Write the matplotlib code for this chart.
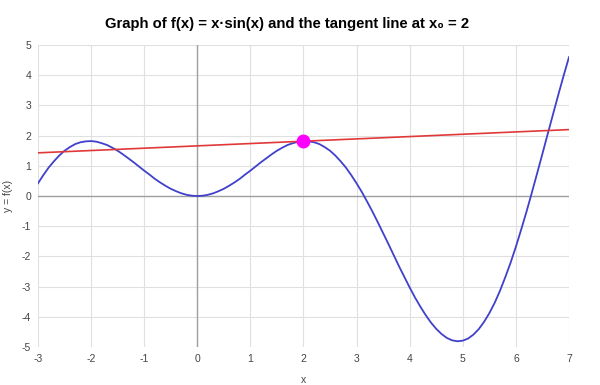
import matplotlib.pyplot as plt

plt.rcParams['font.family'] = ['Liberation Sans', 'DejaVu Sans']
plt.rcParams['axes.unicode_minus'] = False

# f(x) = x*sin(x) at steps of 0.1 from -3 to 7
xs = [i / 10 for i in range(-30, 71)]
ys = [0.42, 0.69, 0.94, 1.15, 1.34, 1.50, 1.62, 1.72, 1.78, 1.81,
      1.82, 1.80, 1.75, 1.69, 1.60, 1.50, 1.38, 1.25, 1.12, 0.98,
      0.84, 0.71, 0.57, 0.45, 0.34, 0.24, 0.16, 0.09, 0.04, 0.01,
      0.00,
      0.01, 0.04, 0.09, 0.16, 0.24, 0.34, 0.45, 0.57, 0.71, 0.84,
      0.98, 1.12, 1.25, 1.38, 1.50, 1.60, 1.69, 1.75, 1.80, 1.82,
      1.81, 1.78, 1.72, 1.62, 1.50, 1.34, 1.15, 0.94, 0.69, 0.42,
      0.13, -0.19, -0.52, -0.87, -1.23, -1.59, -1.96, -2.33, -2.68, -3.03,
      -3.36, -3.66, -3.94, -4.19, -4.40, -4.57, -4.70, -4.78, -4.81, -4.79,
      -4.72, -4.59, -4.41, -4.17, -3.88, -3.54, -3.14, -2.69, -2.21, -1.68,
      -1.11, -0.52, 0.11, 0.75, 1.40, 2.06, 2.71, 3.36, 3.99, 4.60]

# tangent line end points and the touching point
tan_x = [-3, 7]
tan_y = [1.43, 2.20]
x0, y0 = 2, 1.82

fig = plt.figure(figsize=(6, 3.85), dpi=100)
ax = fig.add_axes([0.0633, 0.0987, 0.885, 0.7843])

ax.plot(xs, ys, color='#4040cc', lw=1.3, zorder=3)
ax.plot(tan_x, tan_y, color='#e0393a', lw=1.2, zorder=3)
ax.plot([x0], [y0], 'o', color='#ff00ff', ms=9, zorder=4)

ax.axhline(0, color='#a0a0a0', lw=1, zorder=2)
ax.axvline(0, color='#a0a0a0', lw=1, zorder=2)

ax.set_xlim(-3, 7)
ax.set_ylim(-5, 5)
ax.set_xticks(range(-3, 8))
ax.set_yticks(range(-5, 6))
ax.grid(True, color='#e0e0e0', lw=0.8, zorder=1)
for s in ax.spines.values():
    s.set_visible(False)
ax.tick_params(length=0, labelsize=7.5, labelcolor='#444444', pad=5)

ax.set_xlabel('x', fontsize=7.5, color='#444444', labelpad=8)
ax.set_ylabel('y = f(x)', fontsize=7.5, color='#444444', labelpad=6)
fig.suptitle('Graph of f(x) = x·sin(x) and the tangent line at x₀ = 2',
             fontsize=10.7, fontweight='bold', x=0.479, y=0.955)

fig.savefig('out.png')
